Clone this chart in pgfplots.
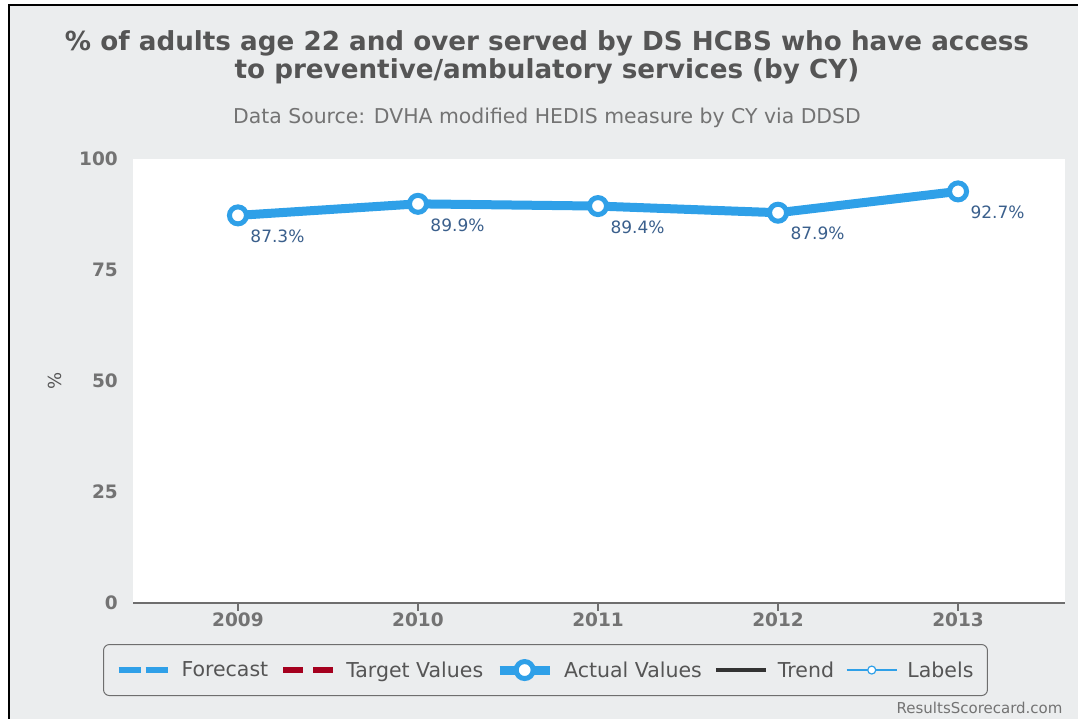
\documentclass[border=0pt]{standalone}
\usepackage{pgfplots}
\pgfplotsset{compat=1.18}
\usepackage{fontspec}
\setmainfont{DejaVu Sans}
\definecolor{bg}{RGB}{235,237,238}
\definecolor{lineblue}{RGB}{47,160,232}
\definecolor{labelblue}{RGB}{58,95,140}
\definecolor{tickgray}{RGB}{115,115,115}
\definecolor{titlegray}{RGB}{85,85,85}
\definecolor{targetred}{RGB}{165,0,30}
\definecolor{axisgray}{RGB}{110,110,110}
\pgfplotsset{
  legline/.style={legend image code/.code={\draw[##1] (0pt,0pt) -- (50pt,0pt);}},
  legmark/.style={legend image code/.code={\draw[##1] (0pt,0pt) -- (50pt,0pt); \draw[##1] plot coordinates {(25pt,0pt)};}},
}
\begin{document}
\begin{tikzpicture}
\useasboundingbox (0pt,0pt) rectangle (1078pt,-719pt);
\fill[white] (0pt,0pt) rectangle (1078pt,-719pt);
\fill[bg] (9pt,-5pt) rectangle (1078pt,-719pt);
\draw[black, line width=2.5pt] (9pt,-719pt) -- (9pt,-5pt) -- (1078pt,-5pt);
\node[font=\bfseries\fontsize{26.2}{28}\selectfont, text=titlegray, align=center] at (547pt,-57pt)
  {\% of adults age 22 and over served by DS HCBS who have access\\to preventive/ambulatory services (by CY)};
\node[font=\fontsize{20.4}{22}\selectfont, text=tickgray] at (547pt,-118pt)
  {Data Source: DVHA modified HEDIS measure by CY via DDSD};
\node[font=\fontsize{15}{16}\selectfont, text=tickgray, anchor=east] at (1066pt,-708pt) {ResultsScorecard.com};
\begin{axis}[
  at={(133pt,-603pt)}, anchor=south west,
  scale only axis, width=932pt, height=444pt,
  xmin=-0.583, xmax=4.594, ymin=0, ymax=100,
  axis background/.style={fill=white},
  axis x line*=bottom, axis y line*=left,
  y axis line style={draw=none},
  x axis line style={draw=axisgray, line width=2pt},
  xtick={0,1,2,3,4}, xticklabels={2009,2010,2011,2012,2013},
  ytick={0,25,50,75,100},
  major y tick style={draw=none},
  major x tick style={draw=axisgray, line width=1.2pt},
  tick align=outside, major tick length=8pt,
  /pgf/number format/assume math mode=true,
  ticklabel style={font=\bfseries\fontsize{18.5}{20}\selectfont, text=tickgray},
  yticklabel style={anchor=east, inner sep=0pt, xshift=-7pt},
  xticklabel style={anchor=north, inner sep=0pt, yshift=-2pt},
  ylabel={\%},
  ylabel style={at={(axis description cs:-0.0837,0.5)}, anchor=center, font=\fontsize{18}{20}\selectfont, text=titlegray},
  clip=false,
  legend style={at={(rel axis cs:0.4426,-0.151)}, anchor=center, legend columns=5,
    draw=axisgray, line width=1pt, rounded corners=6pt, fill=bg,
    font=\fontsize{20.5}{22}\selectfont, text=titlegray,
    inner xsep=12pt, inner ysep=15pt,
    /tikz/every odd column/.append style={column sep=8pt},
    /tikz/every even column/.append style={column sep=10pt}},
  legend cell align=left,
]
\addlegendimage{legline, lineblue, line width=6pt, dash pattern=on 22pt off 5pt}
\addlegendimage{legline, targetred, line width=6pt, dash pattern=on 20pt off 10pt}
\addlegendimage{legmark, lineblue, line width=9pt, mark=*, mark size=8.5pt, mark options={fill=white, draw=lineblue, line width=5pt}}
\addlegendimage{legline, black!80, line width=4pt}
\addlegendimage{legmark, lineblue, line width=1.5pt, mark=*, mark size=4pt, mark options={fill=white, draw=lineblue, line width=1.2pt}}
\legend{Forecast, Target Values, Actual Values, Trend, Labels}
\addplot[forget plot, lineblue, line width=9pt, mark=*, mark size=8.5pt,
  mark options={fill=white, draw=lineblue, line width=5pt},
  nodes near coords={\pgfmathprintnumber[fixed,precision=1,fixed zerofill,assume math mode=true]{\pgfplotspointmeta}\%},
  nodes near coords style={anchor=west, inner sep=0pt, xshift=10pt, yshift=-21pt, font=\fontsize{17}{19}\selectfont, text=labelblue}]
  coordinates {(0,87.3) (1,89.9) (2,89.4) (3,87.9) (4,92.7)};
\end{axis}
\end{tikzpicture}
\end{document}
